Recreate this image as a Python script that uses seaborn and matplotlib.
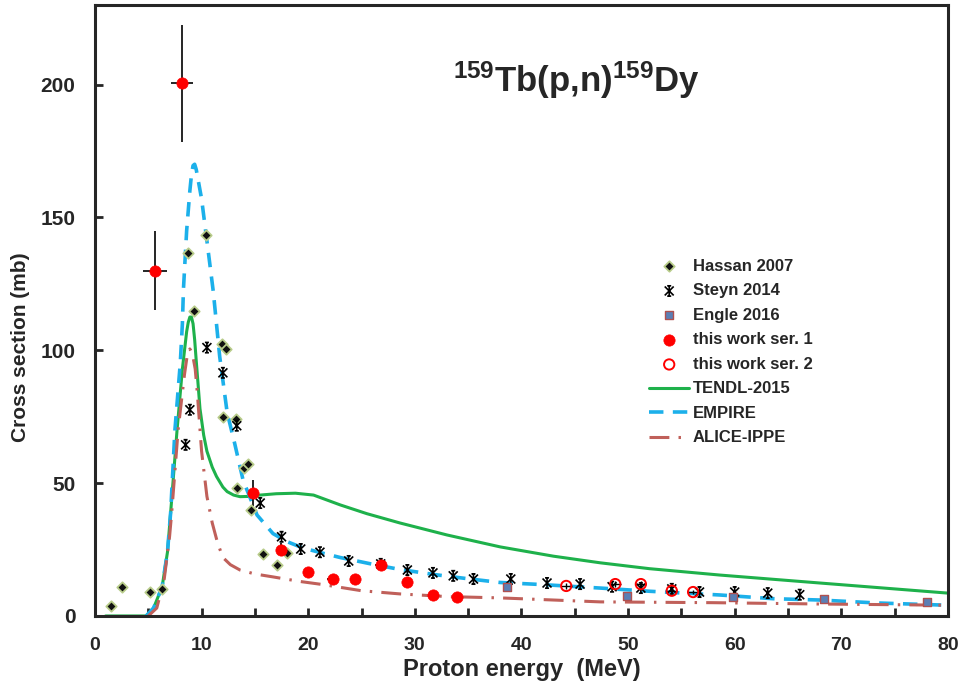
import numpy as np
import pandas as pd
import seaborn as sns
import matplotlib.pyplot as plt
from matplotlib.path import Path
from matplotlib.ticker import MultipleLocator

# measured data (proton energy MeV, cross section mb)
hassan_e = [1.5, 2.5, 5.2, 6.3, 8.7, 9.3, 10.4, 11.9, 12.3, 12.0, 13.2, 13.3, 14.0, 14.4, 14.6, 15.8, 17.1, 18.0]
hassan_s = [3.8, 10.9, 9.1, 10.2, 136.7, 114.9, 143.5, 102.4, 100.6, 75.0, 74.2, 48.2, 55.7, 57.2, 39.9, 23.4, 19.2, 23.7]

steyn_e = [8.5, 8.9, 10.5, 12.0, 13.3, 15.5, 17.5, 19.3, 21.1, 23.8, 26.8, 29.3, 31.7, 33.6, 35.5,
           39.0, 42.4, 45.5, 48.5, 51.2, 54.1, 56.7, 60.0, 63.1, 66.1]
steyn_s = [64.4, 77.6, 101.0, 91.5, 71.6, 42.5, 29.8, 25.2, 24.0, 20.7, 19.6, 17.3, 16.2, 15.1, 13.9,
           13.9, 12.4, 12.0, 11.0, 10.5, 10.2, 9.0, 9.0, 8.6, 8.0]

engle_e = [38.6, 49.9, 59.8, 68.4, 78.0]
engle_s = [11.0, 7.7, 7.2, 6.4, 5.3]

ser1_e = [5.63, 8.16, 14.8, 17.45, 20.0, 22.3, 24.4, 26.8, 29.3, 31.7, 34.0]
ser1_s = [130.0, 200.5, 46.3, 24.9, 16.6, 13.9, 13.9, 19.3, 12.8, 8.0, 7.2]
ser1_de = [1.1, 1.0, 0.4, 0.5, 0.5, 0.5, 0.5, 0.5, 0.5, 0.5, 0.5]
ser1_ds = [15.0, 22.0, 5.0, 2.5, 1.6, 1.4, 1.4, 2.0, 1.3, 0.8, 0.7]

ser2_e = [44.2, 48.8, 51.2, 54.1, 56.1]
ser2_s = [11.3, 12.0, 12.0, 9.5, 9.0]
ser2_de = [0.5, 0.5, 0.5, 0.5, 0.5]
ser2_ds = [1.1, 1.2, 1.2, 1.0, 0.9]

# model curves
tendl_e = [1, 4.8, 5.5, 6.3, 6.8, 7.1, 7.7, 8.2, 8.6, 8.75, 8.9, 9.05, 9.2, 9.35, 9.5, 9.85, 10.2, 10.5,
           11.0, 11.4, 12.0, 12.4, 13.0, 13.6, 14.5, 15.2, 17, 18.8, 20.5, 23, 25.5, 28.6, 33, 38,
           43, 47.4, 52, 58.6, 68, 74, 80]
tendl_s = [0, 0, 3, 11, 24, 39, 70, 93, 107, 110.5, 112.5, 112.5, 110, 104, 96, 78, 68, 62,
           56, 52.5, 48.5, 46.8, 45.5, 44.9, 45.0, 45.4, 46, 46.2, 45.5, 41.8, 38.5, 35, 30.5, 26,
           22.5, 20, 17.8, 15.4, 12.4, 10.5, 8.6]

empire_e = [4.8, 5.5, 6.3, 6.8, 7.1, 7.5, 8.0, 8.2, 8.3, 8.6, 8.9, 9.05, 9.2, 9.35, 9.5, 10.0, 10.6,
            11.1, 11.7, 12.4, 13.1, 13.9, 15.2, 16.7, 18, 19.5, 21, 23, 26, 28.6, 32, 35, 38, 42,
            47.4, 52, 58.6, 63.6, 68, 73.3, 79.5]
empire_s = [0, 3, 11, 24, 39, 70, 95, 110, 123, 145, 160, 166, 169.5, 170, 168, 157, 138,
            122, 97.6, 76.5, 65, 51, 38, 31, 28, 25.6, 24, 22, 19.5, 17.5, 15.5, 14, 12.6, 11.8,
            10.5, 9.3, 7.9, 6.5, 6, 4.9, 4.1]

alice_e = [5.0, 5.8, 6.5, 7.0, 7.2, 7.8, 8.4, 8.65, 8.9, 9.15, 9.4, 9.6, 10.0, 10.5, 11.0, 11.5,
           12.0, 12.7, 13.6, 15.0, 16.7, 19.2, 21.4, 25, 28.6, 33, 38, 47.4, 58, 68, 78.6, 80]
alice_s = [0, 3, 14, 30, 39, 70, 91, 98, 100.5, 98.5, 93, 84, 62, 45, 35, 27.5,
           22, 19.3, 17.3, 15.8, 14.7, 13.0, 11.8, 9.5, 8.3, 7.3, 6.8, 5.3, 5.0, 4.5, 4.1, 4.0]

sns.set_style('ticks')
plt.rcParams['font.family'] = ['Liberation Sans', 'DejaVu Sans']
plt.rcParams['font.weight'] = 'bold'
plt.rcParams['mathtext.fontset'] = 'custom'
plt.rcParams['mathtext.rm'] = 'Liberation Sans:bold'
plt.rcParams['mathtext.default'] = 'rm'

fig = plt.figure(figsize=(9.66, 6.89), dpi=100)
ax = fig.add_axes([0.0983, 0.106, 0.883, 0.887])

# steyn style marker: X + vertical bar + short caps
star = Path([(-1, -1), (1, 1), (-1, 1), (1, -1), (0, -1.15), (0, 1.15), (-0.45, 1.15), (0.45, 1.15),
             (-0.45, -1.15), (0.45, -1.15)],
            [Path.MOVETO, Path.LINETO] * 5)

sns.lineplot(x=tendl_e, y=tendl_s, ax=ax, color='#1eb14b', lw=2.2, label='TENDL-2015', sort=False)
sns.lineplot(x=empire_e, y=empire_s, ax=ax, color='#1cb0ea', lw=2.6, label='EMPIRE', sort=False)
ax.lines[-1].set_dashes([4.0, 2.6])
sns.lineplot(x=alice_e, y=alice_s, ax=ax, color='#c0605a', lw=2.2, label='ALICE-IPPE', sort=False)
ax.lines[-1].set_dashes([6.5, 3.0, 0.8, 3.0])

ax.errorbar(ser1_e, ser1_s, xerr=ser1_de, yerr=ser1_ds, fmt='none', ecolor='black', elinewidth=1.2, capsize=0)
ax.errorbar(ser2_e, ser2_s, xerr=ser2_de, yerr=ser2_ds, fmt='none', ecolor='black', elinewidth=1.0, capsize=0)

sns.scatterplot(x=hassan_e, y=hassan_s, ax=ax, marker='D', s=28, color='#111111',
                edgecolor='#b8cc8a', linewidth=1.3, label='Hassan 2007', zorder=5)
sns.scatterplot(x=steyn_e, y=steyn_s, ax=ax, marker=star, s=55, facecolor='none',
                edgecolor='black', linewidth=1.2, label='Steyn 2014', zorder=5)
sns.scatterplot(x=engle_e, y=engle_s, ax=ax, marker='s', s=30, color='#5a7fb5',
                edgecolor='#b0504f', linewidth=1.0, label='Engle 2016', zorder=5)
sns.scatterplot(x=ser1_e, y=ser1_s, ax=ax, marker='o', s=66, color='#ff0000',
                edgecolor='#ff0000', linewidth=0.5, label='this work ser. 1', zorder=6)
sns.scatterplot(x=ser2_e, y=ser2_s, ax=ax, marker='o', s=55, facecolor='none',
                edgecolor='#ff0000', linewidth=1.4, label='this work ser. 2', zorder=6)

ax.set_xlim(0, 80)
ax.set_ylim(0, 230)
ax.xaxis.set_major_locator(MultipleLocator(10))
ax.xaxis.set_minor_locator(MultipleLocator(5))
ax.yaxis.set_major_locator(MultipleLocator(50))
ax.tick_params(which='both', direction='in', length=6, width=2, top=False, right=False)
ax.tick_params(axis='x', which='major', pad=15, labelsize=14)
ax.tick_params(axis='y', which='major', pad=14, labelsize=15)
for s in ax.spines.values():
    s.set_linewidth(2.2)
    s.set_visible(True)
ax.set_xlabel('Proton energy  (MeV)', fontsize=17, fontweight='bold', labelpad=3)
ax.set_ylabel('Cross section (mb)', fontsize=15, fontweight='bold')
ax.yaxis.set_label_coords(-0.076, 0.44)

ax.text(0.564, 0.877, r'$^{159}$Tb(p,n)$^{159}$Dy', transform=ax.transAxes, ha='center', va='center',
        fontsize=25, fontweight='bold')

# legend in reference order
h, l = ax.get_legend_handles_labels()
order = ['Hassan 2007', 'Steyn 2014', 'Engle 2016', 'this work ser. 1', 'this work ser. 2',
         'TENDL-2015', 'EMPIRE', 'ALICE-IPPE']
hd = dict(zip(l, h))
ax.legend([hd[k] for k in order], order, loc='upper left', bbox_to_anchor=(0.64, 0.598),
          frameon=False, fontsize=12, labelspacing=0.57, handlelength=2.4, handletextpad=0.2,
          borderpad=0)

fig.savefig('out.png', dpi=100)
